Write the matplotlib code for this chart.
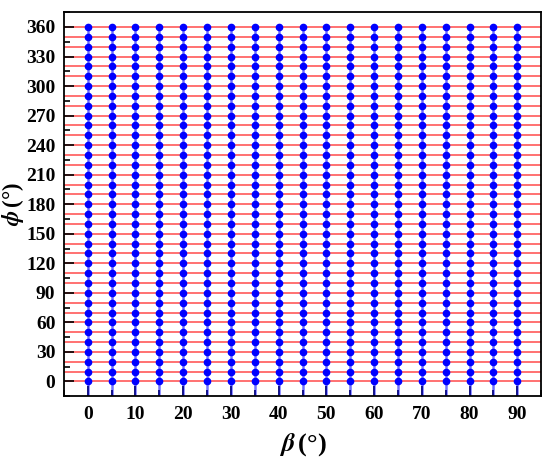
import numpy as np
import matplotlib
matplotlib.use("Agg")
import matplotlib.pyplot as plt
from matplotlib.ticker import MultipleLocator

# ------------------------------------------------------------
# Data: sampling grid of beta / phi angles
# ------------------------------------------------------------
beta_values = [0, 5, 10, 15, 20, 25, 30, 35, 40, 45, 50, 55, 60, 65, 70, 75, 80, 85, 90]
phi_values = [0, 10, 20, 30, 40, 50, 60, 70, 80, 90, 100, 110, 120, 130, 140, 150,
              160, 170, 180, 190, 200, 210, 220, 230, 240, 250, 260, 270, 280, 290,
              300, 310, 320, 330, 340, 350, 360]
x_ticks = [0, 10, 20, 30, 40, 50, 60, 70, 80, 90]
y_ticks = [0, 30, 60, 90, 120, 150, 180, 210, 240, 270, 300, 330, 360]

plt.rcParams["font.family"] = ["Liberation Serif", "DejaVu Serif"]
plt.rcParams["font.weight"] = "bold"
plt.rcParams["mathtext.fontset"] = "stix"

fig = plt.figure(figsize=(5.5, 4.7), dpi=100)
ax = fig.add_axes([0.116, 0.157, 0.868, 0.817])

ax.set_xlim(-5, 95)
ax.set_ylim(-15, 375)

# horizontal red lines across the whole frame
for p in phi_values:
    ax.axhline(p, color="red", alpha=0.6, lw=1.3, zorder=1)

# vertical blue lines from bottom up to the last point
ax.vlines(beta_values, ax.get_ylim()[0], max(phi_values), color="blue",
          alpha=0.55, lw=1.8, zorder=2)

B, P = np.meshgrid(beta_values, phi_values)
ax.plot(B.ravel(), P.ravel(), "o", color="blue", ms=4.5, mec="blue", zorder=3)

ax.set_xticks(x_ticks)
ax.set_yticks(y_ticks)
ax.xaxis.set_minor_locator(MultipleLocator(5))
ax.yaxis.set_minor_locator(MultipleLocator(15))
ax.tick_params(which="both", direction="in", top=False, right=False,
               labelsize=14, width=1.2)
ax.tick_params(which="major", length=7, pad=7)
ax.tick_params(axis="y", which="major", pad=6)
ax.tick_params(which="minor", length=4)
for lab in ax.get_xticklabels() + ax.get_yticklabels():
    lab.set_fontweight("bold")

for s in ax.spines.values():
    s.set_linewidth(1.3)

ax.set_xlabel(r"$\beta\,$(°)", fontsize=19, fontweight="bold")
ax.set_ylabel(r"$\phi\,$(°)", fontsize=16.5, fontweight="bold")
ax.xaxis.set_label_coords(0.5, -0.09)
ax.yaxis.set_label_coords(-0.08, 0.5)

fig.savefig("out.png", dpi=100)
